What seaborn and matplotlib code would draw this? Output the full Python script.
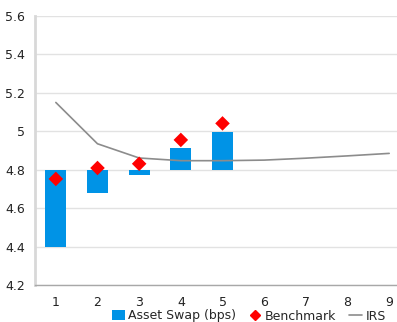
import matplotlib
matplotlib.use("Agg")
import matplotlib.pyplot as plt
import seaborn as sns
import pandas as pd
from matplotlib.lines import Line2D
from matplotlib.patches import Patch

# data
bar_years = [1, 2, 3, 4, 5]
asset_swap_bps = [-40, -12.3, -2.8, 11.1, 19.4]
benchmark = [4.752, 4.809, 4.831, 4.955, 5.041]
irs_years = [1, 2, 3, 4, 5, 6, 7, 8, 9]
irs = [5.15, 4.935, 4.861, 4.847, 4.847, 4.85, 4.86, 4.872, 4.885]
base_level = 4.8
y_ticks = [4.2, 4.4, 4.6, 4.8, 5.0, 5.2, 5.4, 5.6]
y_tick_labels = ["4.2", "4.4", "4.6", "4.8", "5", "5.2", "5.4", "5.6"]
x_tick_labels = ["1", "2", "3", "4", "5", "6", "7", "8", "9"]

sns.set_theme(style="white")
plt.rcParams["font.family"] = ["DejaVu Sans"]

fig = plt.figure(figsize=(3.97, 3.22), dpi=100)
ax = fig.add_axes([35 / 397, 1 - 285 / 322, 375 / 397, (285 - 16) / 322])

bars_df = pd.DataFrame({"year": bar_years,
                        "swap": [v / 100 for v in asset_swap_bps]})
sns.barplot(data=bars_df, x="year", y="swap", native_scale=True, width=0.5,
            bottom=base_level, color="#0093E6", saturation=1, ax=ax,
            linewidth=0, zorder=2)

irs_df = pd.DataFrame({"year": irs_years, "irs": irs})
sns.lineplot(data=irs_df, x="year", y="irs", color="#8C8C8C", linewidth=1.2,
             ax=ax, zorder=3)

bm_df = pd.DataFrame({"year": bar_years, "bm": benchmark})
sns.scatterplot(data=bm_df, x="year", y="bm", marker="D", s=55, color="#FF0000",
                edgecolor="none", ax=ax, zorder=4)

ax.set_xlim(0.5, 9.5)
ax.set_ylim(4.2, 5.6)
ax.set_yticks(y_ticks)
ax.set_yticklabels(y_tick_labels)
ax.set_xticks(irs_years)
ax.set_xticklabels(x_tick_labels)
ax.set_xticks([i + 0.5 for i in range(0, 10)], minor=True)
ax.tick_params(axis="x", which="major", length=0, pad=8, labelsize=9, colors="#222222")
ax.tick_params(axis="x", which="minor", length=4, width=1, color="#A0A0A0", direction="out")
ax.tick_params(axis="y", length=4, width=1, color="#A0A0A0", direction="out",
               labelsize=9, colors="#222222", pad=3)
ax.set_xlabel("")
ax.set_ylabel("")
ax.grid(axis="y", color="#E2E2E2", linewidth=1)
ax.set_axisbelow(True)
for s in ["top", "right"]:
    ax.spines[s].set_visible(False)
ax.spines["left"].set_color("#D8D8D8")
ax.spines["left"].set_linewidth(2)
ax.spines["bottom"].set_color("#A8A8A8")
ax.spines["bottom"].set_linewidth(1)

handles = [
    Patch(facecolor="#0093E6", edgecolor="none", label="Asset Swap (bps)"),
    Line2D([], [], marker="D", color="#FF0000", linestyle="none", markersize=5,
           label="Benchmark"),
    Line2D([], [], color="#8C8C8C", linewidth=1.2, label="IRS"),
]
fig.legend(handles=handles, loc="center", bbox_to_anchor=(249 / 397, 1 - 316 / 322),
           ncol=3, frameon=False, fontsize=9, handlelength=1.0, handleheight=0.9,
           handletextpad=0.3, columnspacing=1.0, borderpad=0)

fig.savefig("out.png", dpi=100)
